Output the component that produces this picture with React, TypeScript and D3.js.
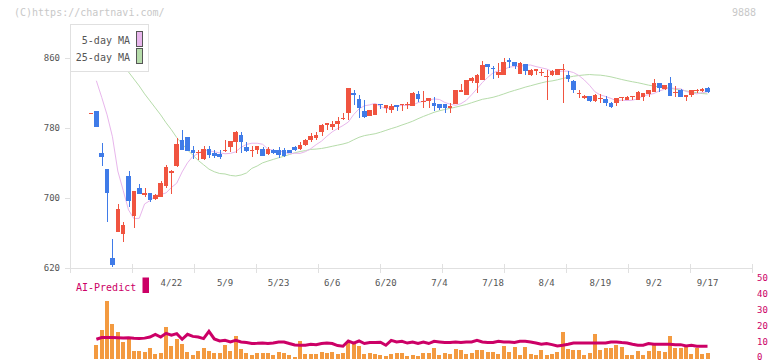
import React from "react";
import * as d3 from "d3";

// daily prices, 2025/4/1 .. 2025/9/17 (index 15 = 4/22)
const opens = [796, 799, 751, 733, 631, 661, 659, 725, 680, 711, 704, 706, 699, 701, 714, 729, 737, 766, 770, 755, 752, 745, 756, 752, 750, 754, 758, 764, 772, 758, 754, 755, 756, 750, 755, 755, 755, 755, 758, 756, 761, 766, 769, 775, 783, 781, 785, 790, 797, 820, 813, 799, 794, 795, 808, 803, 801, 806, 807, 807, 805, 819, 810, 811, 809, 807, 807, 803, 807, 821, 818, 834, 832, 835, 853, 849, 841, 841, 858, 855, 842, 853, 841, 845, 843, 839, 841, 841, 847, 841, 834, 819, 814, 817, 811, 813, 813, 809, 809, 815, 812, 816, 812, 816, 819, 821, 831, 825, 831, 820, 823, 816, 818, 823, 822, 826];
const highs = [797, 800, 763, 733, 653, 693, 673, 731, 708, 716, 711, 706, 705, 719, 738, 732, 769, 778, 770, 760, 755, 760, 759, 755, 755, 766, 765, 777, 775, 764, 759, 760, 758, 758, 756, 758, 757, 755, 759, 764, 767, 774, 776, 785, 786, 788, 793, 797, 826, 823, 818, 812, 801, 808, 808, 806, 808, 806, 808, 810, 821, 822, 822, 814, 815, 807, 807, 809, 823, 830, 835, 838, 842, 857, 853, 851, 854, 860, 860, 855, 855, 853, 848, 848, 847, 846, 846, 848, 853, 845, 835, 824, 818, 817, 819, 819, 817, 810, 814, 816, 817, 817, 822, 820, 824, 836, 831, 829, 838, 828, 825, 818, 823, 825, 826, 827];
const lows = [796, 781, 737, 673, 621, 661, 650, 690, 666, 705, 701, 695, 698, 701, 711, 705, 736, 755, 754, 745, 744, 743, 746, 746, 745, 753, 753, 752, 751, 753, 747, 750, 748, 749, 750, 746, 747, 752, 754, 755, 759, 764, 766, 771, 778, 778, 778, 789, 789, 806, 792, 791, 794, 795, 802, 797, 797, 800, 800, 802, 805, 810, 803, 803, 799, 801, 797, 797, 807, 821, 818, 831, 820, 835, 842, 836, 837, 841, 849, 848, 842, 841, 839, 841, 840, 812, 839, 841, 809, 833, 820, 814, 813, 810, 810, 809, 805, 803, 805, 811, 812, 812, 812, 811, 816, 821, 821, 823, 817, 816, 816, 811, 816, 820, 821, 820];
const closes = [797, 781, 747, 706, 623, 687, 669, 697, 708, 705, 706, 698, 703, 717, 736, 731, 762, 755, 754, 752, 753, 756, 749, 748, 747, 755, 765, 775, 764, 754, 755, 759, 748, 756, 751, 749, 748, 752, 755, 761, 766, 771, 772, 783, 786, 785, 788, 792, 826, 818, 803, 793, 801, 808, 806, 806, 805, 804, 808, 808, 820, 813, 811, 814, 805, 803, 803, 805, 823, 824, 835, 837, 841, 852, 850, 847, 844, 855, 855, 851, 854, 845, 846, 848, 844, 840, 845, 848, 848, 836, 823, 820, 817, 811, 818, 814, 809, 804, 814, 816, 816, 817, 821, 820, 823, 831, 826, 829, 817, 821, 816, 818, 823, 824, 825, 821];

// volume (first day has none)
const volumes = [0, 14, 29, 58, 35, 27, 17, 20, 8, 8, 7, 11, 5, 6, 32, 13, 20, 15, 7, 4, 8, 11, 8, 6, 6, 14, 8, 23, 10, 6, 4, 6, 6, 6, 4, 7, 6, 4, 2, 18, 5, 5, 5, 7, 6, 7, 5, 6, 16, 17, 13, 5, 6, 5, 4, 3, 5, 6, 6, 3, 4, 3, 6, 6, 11, 4, 6, 5, 10, 9, 5, 6, 9, 9, 7, 7, 5, 13, 7, 12, 4, 12, 5, 4, 9, 4, 5, 7, 27, 10, 9, 9, 4, 6, 25, 9, 11, 11, 14, 12, 4, 4, 8, 4, 8, 14, 8, 7, 23, 11, 11, 12, 5, 11, 5, 6];

// AI-Predict line (right axis)
const aiPredict = [null, 11.8, 12.9, 12.9, 12.9, 12.8, 12.6, 12.8, 12.4, 12.2, 12.5, 13.2, 14.9, 13.2, 15.5, 14.3, 15.3, 11.8, 14.9, 13.6, 13.2, 12.2, 16.8, 12.0, 10.7, 11.1, 10.1, 11.1, 10.1, 9.7, 9.1, 9.2, 9.4, 9.1, 9.4, 10.1, 10.1, 9.1, 8.2, 8.0, 8.0, 8.6, 8.4, 9.1, 9.4, 9.1, 7.8, 7.4, 10.7, 9.4, 10.7, 9.1, 9.7, 9.7, 9.9, 8.0, 11.1, 10.1, 10.5, 9.4, 10.1, 9.1, 10.1, 9.1, 10.5, 10.1, 9.7, 9.7, 10.1, 9.7, 10.1, 10.1, 11.1, 10.1, 9.7, 9.7, 10.5, 10.1, 10.1, 9.7, 10.5, 10.5, 10.1, 9.4, 8.6, 9.1, 8.4, 7.6, 8.0, 8.6, 9.4, 9.4, 9.4, 9.4, 9.4, 9.4, 9.4, 10.1, 10.1, 9.7, 9.4, 8.6, 8.0, 8.0, 9.1, 8.6, 8.6, 8.6, 8.6, 8.4, 8.4, 7.6, 8.0, 7.4, 7.4, 7.4];

// moving averages before enough days are in the window
const ma5Lead = [834, 815, 795, 770]; // days 1-4
const ma25Lead = [844, 836, 828, 819, 811, 803, 795, 786, 778, 769, 762, 755, 749, 743, 738, 733, 730, 728]; // days 7-24

const dateLabels = ["4/22", "5/9", "5/23", "6/6", "6/20", "7/4", "7/18", "8/4", "8/19", "9/2", "9/17"];
const dateIndex = [15, 25, 35, 45, 55, 65, 75, 85, 95, 105, 115];
const priceTicks = [620, 700, 780, 860];
const aiTicks = [0, 10, 20, 30, 40, 50];

const FONT = "'DejaVu Sans Mono', 'Liberation Mono', monospace";
const UP = "#f05440";
const DOWN = "#3f7be8";
const GRID = "#e0e0e0";
const MAGENTA = "#cc0066";

// average of the n closes before day i
const movingAvg = (n: number, lead: number[], start: number) =>
  closes.map((_, i) => {
    if (i < start) return null;
    if (i < n) return lead[i - start];
    return d3.mean(closes.slice(i - n, i)) as number;
  });

const App = () => {
  const x = d3.scaleLinear().domain([0, closes.length - 1]).range([91, 707.5]);
  const y = d3.scaleLinear().domain([620, 860]).range([268, 58]);
  const yVol = d3.scaleLinear().domain([0, 60]).range([359, 299]);
  const yAi = d3.scaleLinear().domain([0, 50]).range([358, 278.5]);

  const ma5 = movingAvg(5, ma5Lead, 1);
  const ma25 = movingAvg(25, ma25Lead, 7);

  const maLine = d3
    .line<number | null>()
    .defined((d) => d != null)
    .x((_, i) => x(i))
    .y((d) => y(d as number));

  const aiLine = d3
    .line<number | null>()
    .defined((d) => d != null)
    .x((_, i) => x(i))
    .y((d) => yAi(d as number));

  const bodyW = 4.6;
  const gridX = d3.range(70, 753, 62);

  return (
    <svg
      width={772}
      height={361}
      style={{ position: "absolute", left: 0, top: 0, background: "#fff" }}
      fontFamily={FONT}
    >
      <text x={14} y={15.5} fontSize={10} fill="#c8c8c8">
        (C)https://chartnavi.com/
      </text>
      <text x={756} y={15.5} fontSize={10} fill="#c8c8c8" textAnchor="end">
        9888
      </text>

      {/* axes */}
      <line x1={70.5} x2={70.5} y1={24} y2={268} stroke={GRID} />
      <line x1={70} x2={752} y1={268.5} y2={268.5} stroke={GRID} />
      {gridX.map((gx) => (
        <line key={gx} x1={gx + 0.5} x2={gx + 0.5} y1={264} y2={273} stroke={GRID} />
      ))}
      {priceTicks.map((t) => (
        <g key={t}>
          <line x1={65} x2={70} y1={Math.round(y(t)) + 0.5} y2={Math.round(y(t)) + 0.5} stroke={GRID} />
          <text x={60} y={y(t) + 3} fontSize={9} fill="#555" textAnchor="end">
            {t}
          </text>
        </g>
      ))}
      {dateLabels.map((d, k) => (
        <text key={d} x={x(dateIndex[k])} y={285.5} fontSize={9} fill="#555" textAnchor="middle">
          {d}
        </text>
      ))}

      {/* moving averages */}
      <path d={maLine(ma25) || ""} fill="none" stroke="#b6dcaa" strokeWidth={1} />
      <path d={maLine(ma5) || ""} fill="none" stroke="#e8b6ec" strokeWidth={1} />

      {/* candles */}
      <g shapeRendering="crispEdges">
        {closes.map((c, i) => {
          const o = opens[i];
          const col = c >= o ? UP : DOWN;
          const cx = Math.round(x(i)) + 0.5;
          const top = y(Math.max(o, c));
          const h = Math.max(1, y(Math.min(o, c)) - top);
          return (
            <g key={i}>
              <line x1={cx} x2={cx} y1={y(highs[i])} y2={y(lows[i])} stroke={col} />
              <rect x={x(i) - bodyW / 2} y={top} width={bodyW} height={h} fill={col} />
            </g>
          );
        })}
      </g>

      {/* legend */}
      <rect x={70.5} y={24.5} width={78} height={47} fill="#fff" stroke={GRID} />
      <text x={130} y={44} fontSize={10} fill="#555" textAnchor="end">
        5-day MA
      </text>
      <text x={130} y={61} fontSize={10} fill="#555" textAnchor="end">
        25-day MA
      </text>
      <rect x={136.5} y={31.5} width={6} height={15} fill="#e8b6ec" stroke="#555" />
      <rect x={136.5} y={48.5} width={6} height={15} fill="#b6dcaa" stroke="#555" />

      {/* AI-Predict panel */}
      <text x={76} y={290.5} fontSize={10} fill={MAGENTA}>
        AI-Predict
      </text>
      <rect x={142.5} y={277.5} width={6.5} height={15.5} fill={MAGENTA} />
      {aiTicks.map((t) => (
        <text key={t} x={757} y={Math.min(yAi(t) + 2.5, 359.5)} fontSize={9} fill={MAGENTA}>
          {t}
        </text>
      ))}
      <g shapeRendering="crispEdges">
        {volumes.map((v, i) =>
          v > 0 ? (
            <rect key={i} x={x(i) - 2} y={yVol(v)} width={4} height={yVol(0) - yVol(v)} fill="#f39a40" />
          ) : null
        )}
      </g>
      <path d={aiLine(aiPredict) || ""} fill="none" stroke={MAGENTA} strokeWidth={3} />
    </svg>
  );
};

export default App;
